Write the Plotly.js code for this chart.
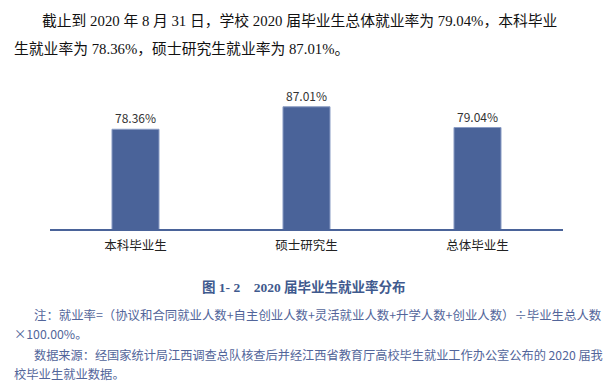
<!DOCTYPE html>
<html>
<head>
<meta charset="utf-8">
<script src="https://cdn.plot.ly/plotly-3.0.1.min.js"></script>
<style>html,body{margin:0;padding:0;background:#fff;}#chart{width:616px;height:391px;}</style>
</head>
<body>
<div id="chart"></div>
<script>
const categories = ["本科毕业生", "硕士研究生", "总体毕业生"];
const rates = [78.36, 87.01, 79.04];
const yRange = [40, 90];

const W = 616, H = 391;
const M = {l: 50, r: 53, t: 98.6, b: 162};
const pw = W - M.l - M.r, ph = H - M.t - M.b;
const px = x => (x - M.l) / pw;
const py = y => (H - M.b - y) / ph;

const serif = "Liberation Serif, Noto Sans CJK SC, serif";
const sans = "Noto Sans CJK SC, sans-serif";
const noteColor = "#52659a";

function ann(text, x, y, size, color, family, anchor) {
  return {text: text, xref: "paper", yref: "paper", x: px(x), y: py(y),
    xanchor: anchor || "left", yanchor: "middle", showarrow: false,
    font: {size: size, color: color, family: family}};
}

const f = v => v.toFixed(2) + "%";
const line1 = "截止到 2020 年 8 月 31 日，学校 2020 届毕业生总体就业率为 " + f(rates[2]) + "，本科毕业";
const line2 = "生就业率为 " + f(rates[0]) + "，硕士研究生就业率为 " + f(rates[1]) + "。";

const annotations = [
  ann(line1, 40, 20, 14.8, "#111", serif),
  ann(line2, 12, 48, 14.8, "#111", serif),
  ann("<b>图 1- 2&nbsp;&nbsp;&nbsp;&nbsp;2020 届毕业生就业率分布</b>", 304, 287, 13.5, "#3f5a8e", serif, "center"),
  ann("注：就业率=（协议和合同就业人数+自主创业人数+灵活就业人数+升学人数+创业人数）÷毕业生总人数", 32, 315, 12.4, noteColor, sans),
  ann("×100.00%。", 12, 334, 12.3, noteColor, sans),
  ann("数据来源：经国家统计局江西调查总队核查后并经江西省教育厅高校毕生就业工作办公室公布的 2020 届我", 32, 355, 12.2, noteColor, sans),
  ann("校毕业生就业数据。", 12, 374, 12.3, noteColor, sans)
];

const trace = {
  type: "bar", x: categories, y: rates,
  marker: {color: "#4a6399", line: {color: "#8a9cc4", width: 1}},
  text: rates.map(f), textposition: "outside", cliponaxis: false,
  textfont: {size: 12, color: "#333", family: sans},
  hoverinfo: "none"
};

const layout = {
  width: W, height: H,
  margin: M,
  paper_bgcolor: "#fff", plot_bgcolor: "#fff",
  showlegend: false,
  bargap: 0.725,
  xaxis: {showline: true, linecolor: "#4a6399", linewidth: 2, ticks: "", showgrid: false,
    ticklabelstandoff: 4,
    tickfont: {size: 12.5, color: "#222", family: sans}, fixedrange: true},
  yaxis: {range: yRange, visible: false, showgrid: false, zeroline: false, fixedrange: true},
  annotations: annotations
};

Plotly.newPlot("chart", [trace], layout, {displayModeBar: false, staticPlot: true});
</script>
</body>
</html>
